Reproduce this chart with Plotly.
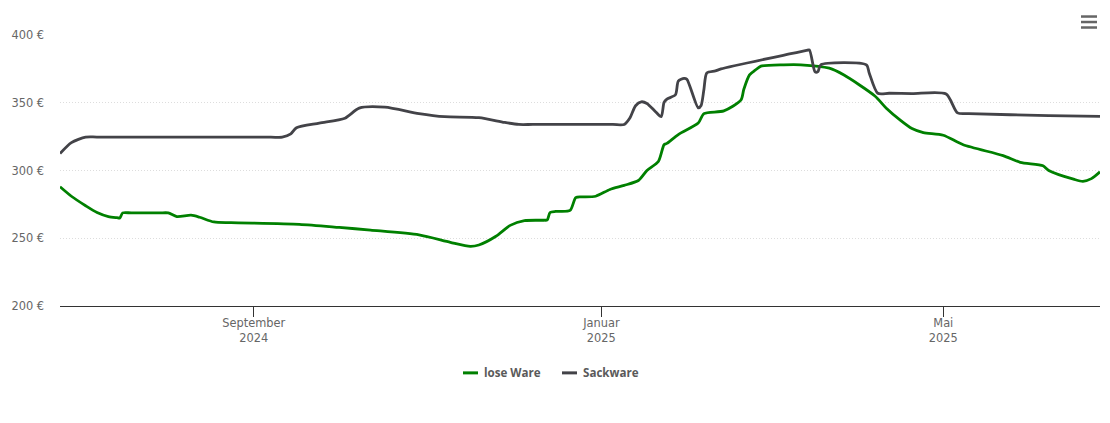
#!/usr/bin/env python3
import plotly.graph_objects as go

# lose Ware
loose_dates = [
    "2024-06-25", "2024-06-29", "2024-07-04", "2024-07-08", "2024-07-12", "2024-07-15", "2024-07-16", "2024-07-17",
    "2024-07-20", "2024-07-30", "2024-08-02", "2024-08-05", "2024-08-10", "2024-08-13", "2024-08-18", "2024-08-24",
    "2024-09-17", "2024-10-01", "2024-10-12", "2024-10-29", "2024-11-09", "2024-11-16", "2024-11-19", "2024-11-25",
    "2024-11-30", "2024-12-05", "2024-12-12", "2024-12-13", "2024-12-14", "2024-12-16", "2024-12-21", "2024-12-23",
    "2024-12-25", "2024-12-30", "2025-01-04", "2025-01-09", "2025-01-14", "2025-01-17", "2025-01-21", "2025-01-23",
    "2025-01-24", "2025-01-28", "2025-02-04", "2025-02-06", "2025-02-13", "2025-02-19", "2025-02-20", "2025-02-22",
    "2025-02-24", "2025-02-26", "2025-03-06", "2025-03-12", "2025-03-22", "2025-03-27", "2025-04-07", "2025-04-11",
    "2025-04-16", "2025-04-20", "2025-04-24", "2025-05-01", "2025-05-08", "2025-05-22", "2025-05-28", "2025-06-05",
    "2025-06-07", "2025-06-16", "2025-06-19", "2025-06-22", "2025-06-25",
]
loose_prices = [
    288, 281, 274, 269, 266, 265.2, 265, 268.7,
    268.7, 268.7, 268.7, 266, 267, 265.5, 262, 261.5,
    260.3, 258, 256, 252.5, 247, 244, 245, 251.5,
    259.5, 263, 263.3, 263.5, 269, 269.8, 270.5, 280,
    280.5, 281, 286, 289, 292.6, 300, 306.6, 319,
    320, 326.5, 335, 342, 344, 352, 360, 370.6,
    374, 377, 378, 378, 375.5, 370.6, 355, 346,
    337, 331, 328, 326, 319, 311, 306, 303.5,
    300, 293.4, 292, 294, 299,
]

# Sackware
bagged_dates = [
    "2024-06-25", "2024-06-29", "2024-07-04", "2024-07-08", "2024-09-07", "2024-09-11", "2024-09-14", "2024-09-16",
    "2024-09-24", "2024-10-03", "2024-10-08", "2024-10-17", "2024-10-29", "2024-11-07", "2024-11-19", "2024-11-28",
    "2024-12-03", "2024-12-08", "2025-01-05", "2025-01-09", "2025-01-11", "2025-01-13", "2025-01-15", "2025-01-17",
    "2025-01-20", "2025-01-22", "2025-01-23", "2025-01-24", "2025-01-27", "2025-01-28", "2025-01-30", "2025-01-31",
    "2025-02-04", "2025-02-05", "2025-02-06", "2025-02-07", "2025-02-10", "2025-02-12", "2025-03-08", "2025-03-14",
    "2025-03-15", "2025-03-17", "2025-03-18", "2025-03-19", "2025-04-04", "2025-04-05", "2025-04-08", "2025-04-12",
    "2025-04-20", "2025-05-02", "2025-05-06", "2025-05-10", "2025-06-07", "2025-06-25",
]
bagged_prices = [
    312.5, 320.6, 324.6, 324.7, 324.6, 324.6, 327, 331.6,
    335, 338.6, 346, 346.7, 342, 339.7, 339, 335.5,
    334, 334, 334, 334, 338.8, 347.8, 350.7, 349.5,
    343.4, 339.7, 350.2, 352.7, 355.9, 366, 368, 367.3,
    346.2, 348, 360, 372, 373.5, 375, 386, 388.6,
    389, 372.8, 373, 378, 378, 372, 357, 357,
    356.8, 356.5, 342.5, 342, 340.5, 340,
]

x_ticks = ["2024-09-01", "2025-01-01", "2025-05-01"]
x_labels = ["September<br>2024", "Januar<br>2025", "Mai<br>2025"]
y_ticks = [200, 250, 300, 350, 400]
y_labels = ["200 €", "250 €", "300 €", "350 €", "400 €"]

series_names = ["lose Ware", "Sackware"]
series_colors = ["#008000", "#434348"]

fig = go.Figure()
fig.add_trace(go.Scatter(x=loose_dates, y=loose_prices, name=series_names[0], mode="lines",
                         line=dict(color=series_colors[0], width=2.8, shape="spline", smoothing=0.7)))
fig.add_trace(go.Scatter(x=bagged_dates, y=bagged_prices, name=series_names[1], mode="lines",
                         line=dict(color=series_colors[1], width=2.8, shape="spline", smoothing=0.7)))


def px_x(px):
    return (px - 60) / 1040


def px_y(px):
    return (306 - px) / 271.5


# Menu icon
for y_px in [16, 21.5, 27]:
    fig.add_shape(type="line", xref="paper", yref="paper", x0=px_x(1081), x1=px_x(1097),
                  y0=px_y(y_px), y1=px_y(y_px), line=dict(color="#666666", width=2.5))

# Legend, the native one cannot draw keys this short
for name, color, key_x in zip(series_names, series_colors, [463, 562]):
    fig.add_shape(type="line", xref="paper", yref="paper", x0=px_x(key_x), x1=px_x(key_x + 15),
                  y0=px_y(373), y1=px_y(373), line=dict(color=color, width=3))
    fig.add_annotation(text=name, xref="paper", yref="paper", x=px_x(key_x + 19), y=px_y(373),
                       xanchor="left", yanchor="middle", showarrow=False,
                       font=dict(family="Open Sans", size=11.6, color="#5a5a5a", weight="bold"))

fig.update_layout(
    width=1110, height=423, margin=dict(l=60, r=10, t=34.5, b=117),
    paper_bgcolor="white", plot_bgcolor="white",
    font=dict(family="DejaVu Sans", size=11.4, color="#666666"),
    showlegend=False,
)
fig.update_xaxes(range=["2024-06-25", "2025-06-25"], tickmode="array", tickvals=x_ticks, ticktext=x_labels,
                 showgrid=False, zeroline=False, showline=True, linecolor="#333333", linewidth=1,
                 ticks="outside", ticklen=10, tickcolor="#333333", tickwidth=1, ticklabelstandoff=-4)
fig.update_yaxes(range=[200, 400], tickmode="array", tickvals=y_ticks, ticktext=y_labels,
                 showgrid=True, gridcolor="#dddddd", griddash="1px,2px", gridwidth=1,
                 zeroline=False, showline=False, ticks="", ticklabelstandoff=15)

fig.write_html("out.html", config=dict(displayModeBar=False), post_script="document.body.style.margin='0';")
